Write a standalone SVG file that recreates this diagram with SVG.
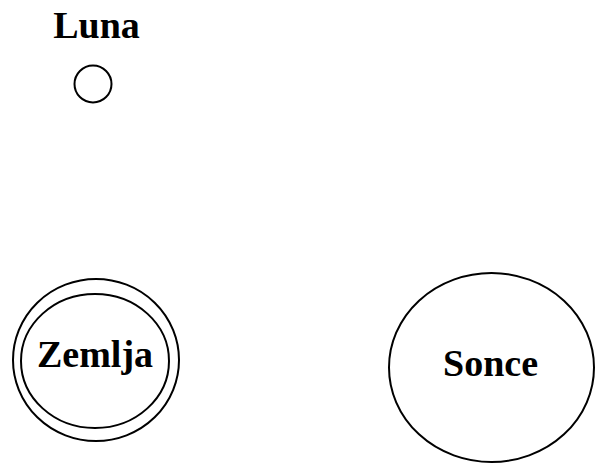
<svg xmlns="http://www.w3.org/2000/svg" width="596" height="464" viewBox="0 0 596 464">
  <style>
    .body { fill: none; stroke: #000; stroke-width: 2; }
    .lbl { font-family: "Liberation Serif", "Times New Roman", serif; font-weight: bold; font-size: 38px; fill: #000; text-anchor: middle; }
  </style>
  <rect width="596" height="464" fill="#fff"/>
  <g id="luna">
    <text class="lbl" x="96.5" y="38">Luna</text>
    <circle class="body" cx="93" cy="84" r="18.5"/>
  </g>
  <g id="zemlja">
    <ellipse class="body" cx="96" cy="360" rx="83" ry="81"/>
    <ellipse class="body" cx="95" cy="361" rx="74" ry="67"/>
    <text class="lbl" x="95" y="366.5">Zemlja</text>
  </g>
  <g id="sonce">
    <ellipse class="body" cx="491.5" cy="367.5" rx="102.5" ry="94.5"/>
    <text class="lbl" x="490.5" y="376">Sonce</text>
  </g>
  <g id="connectors"></g>
</svg>
